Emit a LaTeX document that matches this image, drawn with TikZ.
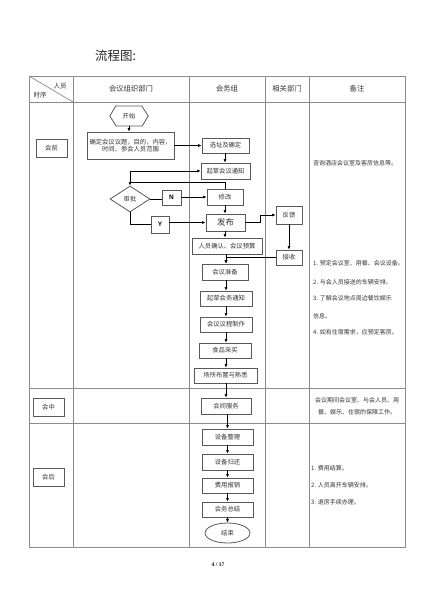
\documentclass[tikz,border=0pt]{standalone}
\usepackage{fontspec}
\setmainfont{Noto Sans CJK SC}
\newfontfamily\latinsans{Liberation Sans}
\newfontfamily\latinserif{Liberation Serif}
\usetikzlibrary{arrows.meta,shapes.geometric}
\begin{document}
\begin{tikzpicture}[x=1pt,y=-1pt]
\tikzset{
 grid/.style={draw=black!45,line width=0.7pt},
 bx/.style={draw=black!65,line width=0.8pt,inner sep=0pt,font=\fontsize{6.3}{7.5}\selectfont,text=black!80,align=center},
 lbl/.style={inner sep=0pt,font=\fontsize{6.3}{7.5}\selectfont,text=black!80},
 yn/.style={bx,font=\latinsans\bfseries\fontsize{6.5}{7}\selectfont,text=black},
 arr/.style={draw=black,line width=0.6pt,-{Latex[length=3.5pt,width=3pt]}},
 ln/.style={draw=black,line width=0.6pt},
 note/.style={anchor=west,inner sep=0pt,font=\fontsize{6}{7}\selectfont,text=black!80},
 head/.style={inner sep=0pt,font=\fontsize{7.3}{8}\selectfont,text=black!80},
}
\fill[white] (0,0) rectangle (432,600);
\useasboundingbox (0,0) rectangle (432,600);

% title
\node[anchor=west,inner sep=0pt,font=\fontsize{12.5}{14}\selectfont,text=black!85] (title) at (95,56) {流程图:};

% table
\draw[grid] (29,76) rectangle (405,547);
\foreach \yy in {102,388,423} \draw[grid] (29,\yy) -- (405,\yy);
\foreach \xx in {73,189,265,309} \draw[grid] (\xx,76) -- (\xx,547);
\draw[grid] (29,76) -- (73,102);

% header
\node[head,font=\fontsize{6.5}{7}\selectfont] (hry) at (60,86) {人员};
\node[head,font=\fontsize{6.5}{7}\selectfont] (hsx) at (40,95) {时序};
\node[head] (h1) at (131,89) {会议组织部门};
\node[head] (h2) at (227,89) {会务组};
\node[head] (h3) at (287,89) {相关部门};
\node[head] (h4) at (357,89) {备注};

% row labels
\node[bx,minimum width=31,minimum height=18] (rq) at (51.5,148) {会前};
\node[bx,minimum width=31,minimum height=18] (rz) at (48.5,407) {会中};
\node[bx,minimum width=31,minimum height=18] (rh) at (48.5,477) {会后};

% flow nodes
\node[lbl,minimum width=38,minimum height=20] (start) at (129,116) {开始};
\draw[draw=black!65,line width=0.8pt] (start.west) -- ++(6,-10) -- ++(26,0) -- (start.east) -- ++(-6,10) -- ++(-26,0) -- cycle;
\node[bx,minimum width=87,minimum height=27] (t1) at (130.5,145.5) {确定会议议题，目的，内容，\\时间、参会人员范围};
\node[bx,minimum width=47,minimum height=15] (xz) at (225.5,145.5) {选址及确定};
\node[bx,minimum width=49,minimum height=16] (qc1) at (225.5,171) {起草会议通知};
\node[bx,diamond,aspect=1.55,minimum width=40,minimum height=26] (sp) at (130,199) {审批};
\node[yn,minimum width=19,minimum height=15] (nb) at (171.5,197.5) {N};
\node[bx,minimum width=36,minimum height=16] (xg) at (225,197) {修改};
\node[yn,minimum width=18,minimum height=17] (yb) at (160,224.5) {Y};
\node[bx,minimum width=39,minimum height=17,font=\fontsize{8.5}{9}\selectfont] (fb) at (225.5,222.5) {发布};
\node[bx,minimum width=26,minimum height=18] (fk) at (289,215) {反馈};
\node[bx,minimum width=26,minimum height=15] (js) at (289,257.5) {接收};
\node[bx,minimum width=70,minimum height=16] (ry) at (227,246) {人员确认、会议预算};
\node[bx,minimum width=46,minimum height=16] (zb) at (225,272) {会议准备};
\node[bx,minimum width=52,minimum height=15] (qc2) at (226,298.5) {起草会务通知};
\node[bx,minimum width=52,minimum height=15] (yc) at (226,324.5) {会议议程制作};
\node[bx,minimum width=52,minimum height=15] (spc) at (225,350.5) {食品采买};
\node[bx,minimum width=63,minimum height=15] (cs) at (225.5,375.5) {场所布置与熟悉};
\node[bx,minimum width=50,minimum height=16] (hj) at (226,406) {会间服务};
\node[bx,minimum width=51,minimum height=16] (sb1) at (227.5,437) {设备整理};
\node[bx,minimum width=51,minimum height=16] (sb2) at (227.5,462) {设备归还};
\node[bx,minimum width=51,minimum height=15] (fy) at (227.5,485.5) {费用报销};
\node[bx,minimum width=51,minimum height=15] (zj) at (227.5,509.5) {会务总结};
\node[bx,ellipse,minimum width=45,minimum height=20] (end) at (227.5,533) {结束};

\coordinate (sa) at (225,0);
\coordinate (sb) at (226,0);
\coordinate (sc) at (227.5,0);
\coordinate (jn) at (130,182);
\coordinate (kk) at (260,0);

% connectors
\draw[arr] (start.south) -- (t1.north -| start.south);
\draw[arr] (t1.east |- xz.west) -- (xz.west);
\draw[arr] (xz.south -| sa) -- (qc1.north -| sa);
\draw[arr] (jn) |- (qc1.west);
\draw[arr] (xg.north) |- (jn) -- (sp.north);
\draw[ln] (sp.east) -- (nb.west |- sp.east);
\draw[arr] (nb.east |- xg.west) -- (xg.west);
\draw[ln] (sp.south) |- (yb.west);
\draw[arr] (yb.east |- fb.west) -- (fb.west);
\draw[arr] (xg.south -| sa) -- (fb.north -| sa);
\draw[arr] (fb.east) -| (kk |- fb.east) |- (fk.west);
\draw[arr] (fk.south) -- (js.north);
\draw[arr] (fb.south -| sa) -- (ry.north -| sa);
\draw[arr] (js.west) -| (zb.north -| sb);
\draw[arr] (ry.south -| sb) -- (zb.north -| sb);
\draw[arr] (zb.south -| sb) -- (qc2.north -| sb);
\draw[arr] (qc2.south -| sb) -- (yc.north -| sb);
\draw[arr] (yc.south -| sb) -- (spc.north -| sb);
\draw[arr] (spc.south -| sb) -- (cs.north -| sb);
\draw[arr] (cs.south -| sb) -- (hj.north -| sb);
\draw[arr] (hj.south -| sc) -- (sb1.north -| sc);
\draw[arr] (sb1.south -| sc) -- (sb2.north -| sc);
\draw[arr] (sb2.south -| sc) -- (fy.north -| sc);
\draw[arr] (fy.south -| sc) -- (zj.north -| sc);
\draw[arr] (zj.south -| sc) -- (end.north -| sc);

% notes
\node[note] (n1) at (313,163) {咨询酒店会议室及客房信息等。};
\node[note] (n2) at (313,263) {1. 预定会议室、用餐、会议设备。};
\node[note] (n3) at (313,282) {2. 与会人员接送的车辆安排。};
\node[note] (n4) at (313,298) {3. 了解会议地点周边餐饮娱乐};
\node[note] (n5) at (313,316) {信息。};
\node[note] (n6) at (313,332) {4. 如有住宿需求，应预定客房。};
\node[note,anchor=center] (n7) at (357,400) {会议期间会议室、与会人员、用};
\node[note,anchor=center] (n8) at (357,412) {餐、娱乐、住宿的保障工作。};
\node[note] (n9) at (311,468) {1. 费用结算。};
\node[note] (n10) at (311,485) {2. 人员离开车辆安排。};
\node[note] (n11) at (311,502) {3. 退房手续办理。};

% page number
\node[inner sep=0pt,font=\latinserif\bfseries\fontsize{5.5}{6}\selectfont] (pg) at (218,565) {4 / 17};
\end{tikzpicture}
\end{document}
